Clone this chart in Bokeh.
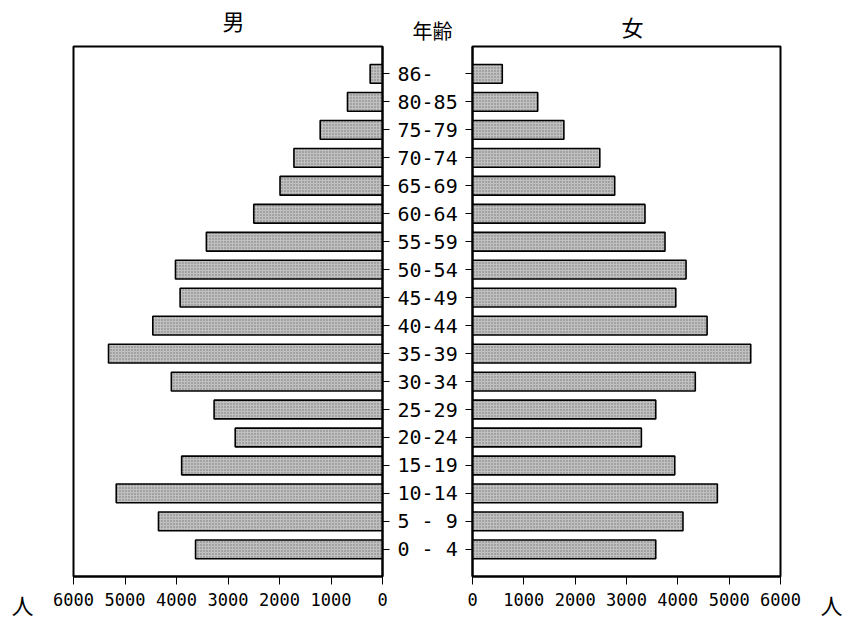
from bokeh.plotting import figure
from bokeh.layouts import row, column
from bokeh.models import Range1d, FixedTicker, Label, ColumnDataSource
from bokeh.embed import file_html
from bokeh.resources import INLINE

# ---- data (bottom row first) ----
age_groups = ["0 - 4", "5 - 9", "10-14", "15-19", "20-24", "25-29", "30-34",
              "35-39", "40-44", "45-49", "50-54", "55-59", "60-64", "65-69",
              "70-74", "75-79", "80-85", "86-"]
male = [3630, 4350, 5170, 3900, 2860, 3270, 4100, 5320, 4460, 3930,
        4020, 3420, 2500, 1990, 1720, 1210, 680, 240]
female = [3570, 4100, 4770, 3940, 3290, 3570, 4340, 5420, 4570, 3960,
          4160, 3750, 3360, 2770, 2480, 1780, 1270, 580]
x_ticks = [0, 1000, 2000, 3000, 4000, 5000, 6000]
title_male = "男"
title_age = "年齢"
title_female = "女"
unit = "人"

pos = list(range(len(age_groups)))
src = ColumnDataSource(dict(y=pos, male=male, female=female))

HEAD_H = 45
H = 578
MB_TOP = 1
MB_BOT = 47
MONO = "DejaVu Sans Mono"
CJK = "Noto Sans CJK JP"
BAR = dict(height=0.67, fill_color="#c0c0c0", line_color="black", line_width=1.6,
           hatch_pattern="dot", hatch_color="#404040", hatch_scale=3, hatch_weight=1,
           hatch_alpha=0.6)


def text_strip(width, height):
    """A bare figure whose frame fills the canvas, used only to hold texts."""
    p = figure(width=width, height=height, output_backend="svg", toolbar_location=None,
               x_axis_type=None, y_axis_type=None, min_border=0, frame_align=False,
               x_range=Range1d(0, 1), y_range=Range1d(0, 1))
    p.outline_line_color = None
    p.grid.visible = False
    p.background_fill_color = "white"
    p.border_fill_color = "white"
    return p


def put(p, x, y, text, size):
    # x, y in pixels from the frame's bottom-left corner
    p.add_layout(Label(x=x, y=y, x_units="screen", y_units="screen",
                       text=text, text_font=CJK, text_font_size=size,
                       text_align="center", text_baseline="middle", text_color="black"))


def style(p):
    p.outline_line_color = "black"
    p.outline_line_width = 2
    p.xgrid.visible = False
    p.ygrid.visible = False
    p.background_fill_color = "white"
    p.border_fill_color = "white"
    p.xaxis.ticker = FixedTicker(ticks=x_ticks)
    p.xaxis.minor_tick_line_color = None
    p.xaxis.major_tick_in = 0
    p.xaxis.major_tick_out = 8
    p.xaxis.major_label_standoff = 8
    p.xaxis.major_label_text_font = MONO
    p.xaxis.major_label_text_font_size = "17px"
    p.xaxis.major_label_text_color = "black"
    p.xaxis.axis_line_width = 2
    p.yaxis.ticker = FixedTicker(ticks=pos)
    p.yaxis.minor_tick_line_color = None
    p.yaxis.major_tick_in = 0
    p.yaxis.major_tick_out = 7
    p.yaxis.axis_line_width = 2


# ---- header with the three headings ----
head = text_strip(849, HEAD_H)
put(head, 233, HEAD_H - 19, title_male, "22px")
put(head, 432, HEAD_H - 30, title_age, "20px")
put(head, 632, HEAD_H - 25, title_female, "22px")

# ---- unit marks at the two outer ends of the value axes ----
unit_l = text_strip(40, H)
put(unit_l, 22, H - (603 - HEAD_H), unit, "22px")
unit_r = text_strip(30, H)
put(unit_r, 14, H - (603 - HEAD_H), unit, "22px")

# ---- left panel (male) ----
pl = figure(width=420, height=H, output_backend="svg", toolbar_location=None,
            x_range=Range1d(6000, 0), y_range=Range1d(-0.97, 17.98),
            y_axis_location="right", min_border_left=33, min_border_right=77,
            min_border_top=MB_TOP, min_border_bottom=MB_BOT)
pl.hbar(y="y", left=0, right="male", source=src, **BAR)
style(pl)
pl.yaxis.major_label_overrides = {i: g for i, g in enumerate(age_groups)}
pl.yaxis.major_label_standoff = 8
pl.yaxis.major_label_text_font = MONO
pl.yaxis.major_label_text_font_size = "20px"
pl.yaxis.major_label_text_color = "black"

# ---- right panel (female) ----
pr = figure(width=357, height=H, output_backend="svg", toolbar_location=None,
            x_range=Range1d(0, 6000), y_range=Range1d(-0.97, 17.98),
            y_axis_location="left", min_border_left=12, min_border_right=37,
            min_border_top=MB_TOP, min_border_bottom=MB_BOT)
pr.hbar(y="y", left=0, right="female", source=src, **BAR)
style(pr)
pr.yaxis.major_label_overrides = {i: "" for i in pos}
pr.yaxis.major_label_text_font_size = "1px"
pr.yaxis.major_label_standoff = 0

layout = column(head, row(unit_l, pl, pr, unit_r, spacing=0), spacing=0)
open("out.html", "w").write(file_html(layout, INLINE))
